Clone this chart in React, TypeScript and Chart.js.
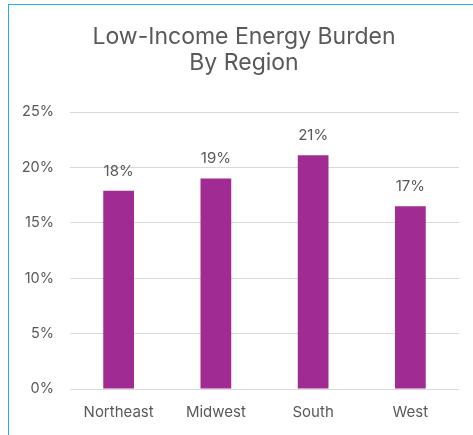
import React, { useEffect, useRef } from "react";
import { Chart, registerables } from "chart.js";

Chart.register(...registerables);

const categories = ["Northeast", "Midwest", "South", "West"];
const burdenValues = [0.179, 0.19, 0.211, 0.165];
const barLabels = ["18%", "19%", "21%", "17%"];
const titleLines = ["Low-Income Energy Burden", "By Region"];

const FONT = "Inter, 'Noto Sans', sans-serif";
const TEXT = "#595959";

export default function App() {
  const ref = useRef<HTMLCanvasElement>(null);
  useEffect(() => {
    const canvas = ref.current!;
    const labelPlugin = {
      id: "extras",
      afterDraw(chart: any) {
        const ctx = chart.ctx;
        ctx.save();
        ctx.fillStyle = TEXT;
        ctx.textAlign = "center";
        ctx.textBaseline = "middle";
        ctx.font = `23px ${FONT}`;
        ctx.fillText(titleLines[0], chart.width / 2, 32);
        ctx.fillText(titleLines[1], chart.width / 2, 58);
        ctx.font = `15px ${FONT}`;
        const meta = chart.getDatasetMeta(0);
        meta.data.forEach((bar: any, i: number) => {
          ctx.fillText(barLabels[i], bar.x, bar.y - 19.5);
        });
        ctx.restore();
      },
    };
    const chart = new Chart(canvas, {
      type: "bar",
      data: {
        labels: categories,
        datasets: [
          {
            data: burdenValues,
            backgroundColor: "#a02b93",
            barPercentage: 1,
            categoryPercentage: 0.316,
          },
        ],
      },
      options: {
        animation: false,
        responsive: false,
        layout: { padding: { top: 107, right: 20, left: 0, bottom: 30 } },
        plugins: {
          legend: { display: false },
          title: { display: false },
          tooltip: { enabled: false },
        },
        scales: {
          x: {
            grid: { display: false, drawTicks: false },
            border: { display: false },
            ticks: { color: TEXT, font: { family: FONT, size: 15 }, padding: 14 },
            afterFit(scale: any) {
              scale.height = 42;
            },
          },
          y: {
            min: 0,
            max: 0.25,
            grid: { color: "#d9d9d9", drawTicks: false },
            border: { display: false },
            ticks: {
              stepSize: 0.05,
              color: TEXT,
              font: { family: FONT, size: 14.5 },
              padding: 16,
              callback: (v: any) => Math.round(Number(v) * 100) + "%",
            },
            afterFit(scale: any) {
              scale.width = 61;
            },
          },
        },
      },
      plugins: [labelPlugin],
    });
    return () => chart.destroy();
  }, []);
  return (
    <div style={{ position: "fixed", inset: 0, overflow: "hidden", background: "#fff" }}>
      <div
        style={{
          position: "absolute",
          left: 8,
          top: 4,
          width: 470,
          height: 456,
          border: "1.5px solid #1cb0ef",
        }}
      >
        <canvas ref={ref} width={470} height={456} style={{ display: "block" }} />
      </div>
    </div>
  );
}
